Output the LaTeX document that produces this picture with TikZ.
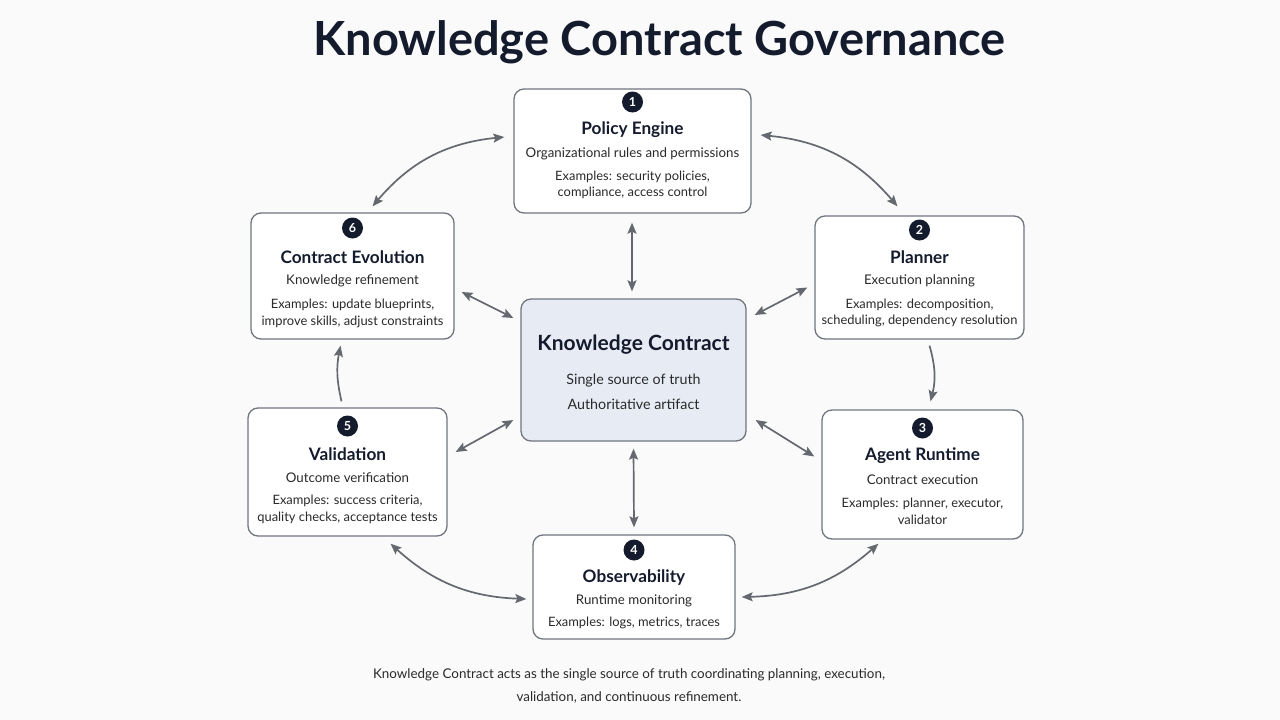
\documentclass[tikz,border=0pt]{standalone}
\usepackage{fontspec}
\setmainfont{Lato}
\usetikzlibrary{arrows.meta}
\definecolor{bgc}{HTML}{FAFAFA}
\definecolor{boxline}{HTML}{70757E}
\definecolor{kcfill}{HTML}{E7ECF4}
\definecolor{navy}{HTML}{141B2D}
\definecolor{arrc}{HTML}{65696F}
\definecolor{txt}{HTML}{2A2A2A}
\tikzset{
  box/.style={draw=boxline, fill=white, rounded corners=10pt, line width=1.3pt, inner sep=0pt},
  kcbox/.style={draw=boxline, fill=kcfill, rounded corners=10pt, line width=1.3pt, inner sep=0pt},
  num/.style={circle, fill=navy, text=white, minimum size=21pt, inner sep=0pt, font=\fontsize{12.5}{12.5}\selectfont\bfseries},
  ttl/.style={text=navy, font=\fontsize{17.2}{19}\selectfont\bfseries, inner sep=0pt, yshift=-2pt},
  sub/.style={text=txt, font=\fontsize{13.3}{16}\selectfont, inner sep=0pt, yshift=-2pt},
  kcsub/.style={text=txt, font=\fontsize{14.3}{16}\selectfont, inner sep=0pt, yshift=-2pt},
  ex/.style={text=txt, font=\fontsize{12.9}{16.5}\selectfont, align=center, inner sep=0pt, yshift=-2pt},
  arr/.style={draw=arrc, line width=1.7pt, arrows={Stealth[length=11pt,width=9pt,inset=2pt]-Stealth[length=11pt,width=9pt,inset=2pt]}},
  arrone/.style={draw=arrc, line width=1.7pt, arrows={-Stealth[length=11pt,width=9pt,inset=2pt]}}
}
\begin{document}
\begin{tikzpicture}[x=1pt,y=-1pt]
\fill[bgc] (0,0) rectangle (1280,720);
\useasboundingbox (0,0) rectangle (1280,720);

\node[text=navy, font=\fontsize{47}{50}\selectfont\bfseries, inner sep=0pt] (title) at (659.5,42) {Knowledge Contract Governance};

% Policy Engine
\node[box, minimum width=237pt, minimum height=124pt] (pe) at (632.5,151) {};
\node[num] (pen) at (632.5,102) {1};
\node[ttl] (pet) at (632.5,128) {Policy Engine};
\node[sub] (pes) at (632.5,152) {Organizational rules and permissions};
\node[ex] (pee) at (632.5,183) {Examples: security policies,\\compliance, access control};

% Planner
\node[box, minimum width=209pt, minimum height=123pt] (pl) at (919.5,277.5) {};
\node[num] (pln) at (919.5,230) {2};
\node[ttl] (plt) at (919.5,255) {Planner};
\node[sub] (pls) at (919.5,279) {Execution planning};
\node[ex] (ple) at (919.5,311) {Examples: decomposition,\\scheduling, dependency resolution};

% Agent Runtime
\node[box, minimum width=201pt, minimum height=129pt] (ar) at (922.5,474.5) {};
\node[num] (arn) at (922.5,428) {3};
\node[ttl] (art) at (922.5,454) {Agent Runtime};
\node[sub] (ars) at (922.5,478) {Contract execution};
\node[ex] (are) at (922.5,509.5) {Examples: planner, executor,\\validator};

% Observability
\node[box, minimum width=202pt, minimum height=104pt] (ob) at (634,587) {};
\node[num] (obn) at (634,550) {4};
\node[ttl] (obt) at (634,576) {Observability};
\node[sub] (obs) at (634,599) {Runtime monitoring};
\node[ex] (obe) at (634,621) {Examples: logs, metrics, traces};

% Validation
\node[box, minimum width=199pt, minimum height=128pt] (va) at (347.5,472) {};
\node[num] (van) at (347.5,426) {5};
\node[ttl] (vat) at (347.5,452) {Validation};
\node[sub] (vas) at (347.5,476) {Outcome verification};
\node[ex] (vae) at (347.5,507.5) {Examples: success criteria,\\quality checks, acceptance tests};

% Contract Evolution
\node[box, minimum width=203pt, minimum height=126pt] (ce) at (352.5,276) {};
\node[num] (cen) at (352.5,228) {6};
\node[ttl] (cet) at (352.5,255) {Contract Evolution};
\node[sub] (ces) at (352.5,279) {Knowledge refinement};
\node[ex] (cee) at (352.5,311.5) {Examples: update blueprints,\\improve skills, adjust constraints};

% Knowledge Contract
\node[kcbox, minimum width=225pt, minimum height=142pt] (kc) at (633.5,370) {};
\node[text=navy, font=\fontsize{21}{23}\selectfont\bfseries, inner sep=0pt] (kct) at (633.5,345) {Knowledge Contract};
\node[kcsub] (kcs1) at (633.5,379) {Single source of truth};
\node[kcsub] (kcs2) at (633.5,402) {Authoritative artifact};

% outer cycle
\draw[arr] ([yshift=14pt,xshift=-9pt]pe.west) to[bend right=22] ([xshift=20pt,yshift=6pt]ce.north);
\draw[arr] ([yshift=16pt,xshift=9pt]pe.east) to[bend left=22] ([xshift=-22pt,yshift=9pt]pl.north);
\draw[arrone] ([xshift=10pt,yshift=-6pt]pl.south) to[bend left=15] ([xshift=8pt,yshift=8pt]ar.north);
\draw[arr] ([xshift=-44pt,yshift=-4pt]ar.south) to[bend left=20] ([yshift=-10pt,xshift=6pt]ob.east);
\draw[arr] ([yshift=-12pt,xshift=-6pt]ob.west) to[bend left=20] ([xshift=43pt,yshift=-7pt]va.south);
\draw[arrone] ([xshift=-6pt,yshift=6pt]va.north) to[bend left=12] ([xshift=-12pt,yshift=-6pt]ce.south);

% spokes
\draw[arr] ([yshift=-9pt,xshift=-0.5pt]pe.south) -- ([yshift=7pt,xshift=-1.5pt]kc.north);
\draw[arr] ([yshift=-7pt]kc.south) -- ([yshift=7pt]ob.north);
\draw[arr] ([xshift=7pt,yshift=-16pt]ce.east) -- ([xshift=-7pt,yshift=52pt]kc.west);
\draw[arr] ([xshift=8pt,yshift=55pt]kc.east) -- ([xshift=-7pt,yshift=-10pt]pl.west);
\draw[arr] ([xshift=-7pt,yshift=-50pt]kc.west) -- ([xshift=8pt,yshift=20pt]va.east);
\draw[arr] ([xshift=9pt,yshift=-50pt]kc.east) -- ([xshift=-7pt,yshift=18pt]ar.west);

% footer
\node[text=txt, font=\fontsize{13.4}{23}\selectfont, align=center, inner sep=0pt] (foot) at (629,686) {Knowledge Contract acts as the single source of truth coordinating planning, execution,\\validation, and continuous refinement.};
\end{tikzpicture}
\end{document}
